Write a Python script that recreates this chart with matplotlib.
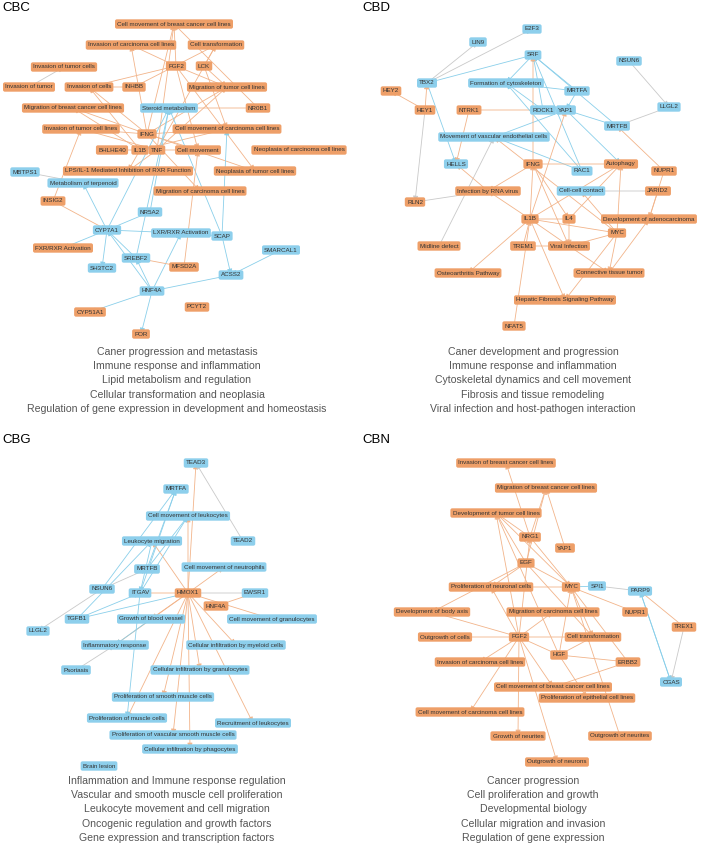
import matplotlib.pyplot as plt

plt.rcParams['font.family'] = ['Liberation Sans', 'DejaVu Sans']

# node name -> group (o = orange / up, b = blue / down)
CBC_nodes = {
    "Cell movement of breast cancer cell lines": "o", "Invasion of carcinoma cell lines": "o",
    "Cell transformation": "o", "Invasion of tumor cells": "o", "FGF2": "o", "LCK": "o",
    "Invasion of tumor": "o", "Invasion of cells": "o", "INHBB": "o",
    "Migration of tumor cell lines": "o", "Migration of breast cancer cell lines": "o",
    "Steroid metabolism": "b", "NR0B1": "o", "Invasion of tumor cell lines": "o", "IFNG": "o",
    "Cell movement of carcinoma cell lines": "o", "BHLHE40": "o", "IL1B": "o", "TNF": "o",
    "Cell movement": "o", "Neoplasia of carcinoma cell lines": "o", "MBTPS1": "b",
    "LPS/IL-1 Mediated Inhibition of RXR Function": "o", "Neoplasia of tumor cell lines": "o",
    "Metabolism of terpenoid": "b", "INSIG2": "o", "Migration of carcinoma cell lines": "o",
    "NR5A2": "b", "CYP7A1": "b", "LXR/RXR Activation": "b", "SCAP": "b",
    "FXR/RXR Activation": "o", "SMARCAL1": "b", "SREBF2": "b", "SH3TC2": "b", "MFSD2A": "o",
    "ACSS2": "b", "HNF4A": "b", "PCYT2": "o", "CYP51A1": "o", "POR": "o",
}
CBC_edges = [
    ("IFNG", "Cell movement of breast cancer cell lines"), ("IFNG", "Invasion of carcinoma cell lines"),
    ("IFNG", "Invasion of cells"), ("IFNG", "Migration of breast cancer cell lines"),
    ("IFNG", "Invasion of tumor cell lines"), ("IFNG", "Cell movement of carcinoma cell lines"),
    ("IFNG", "Cell movement"), ("IFNG", "Migration of tumor cell lines"),
    ("IFNG", "Neoplasia of tumor cell lines"), ("IFNG", "Migration of carcinoma cell lines"),
    ("TNF", "Cell movement of breast cancer cell lines"), ("TNF", "Invasion of tumor cell lines"),
    ("TNF", "Migration of tumor cell lines"), ("TNF", "Cell movement"),
    ("TNF", "LPS/IL-1 Mediated Inhibition of RXR Function"), ("TNF", "Cell transformation"),
    ("IL1B", "Migration of breast cancer cell lines"), ("IL1B", "Invasion of cells"),
    ("IL1B", "Cell movement of carcinoma cell lines"), ("IL1B", "LPS/IL-1 Mediated Inhibition of RXR Function"),
    ("FGF2", "Cell movement of breast cancer cell lines"), ("FGF2", "Invasion of cells"),
    ("FGF2", "Migration of tumor cell lines"), ("FGF2", "Cell movement"),
    ("FGF2", "Invasion of carcinoma cell lines"), ("FGF2", "Neoplasia of tumor cell lines"),
    ("LCK", "Cell transformation"), ("LCK", "Cell movement of carcinoma cell lines"),
    ("LCK", "Migration of tumor cell lines"), ("INHBB", "Invasion of cells"),
    ("INHBB", "Cell transformation"), ("BHLHE40", "IL1B"), ("NR0B1", "Steroid metabolism"),
    ("NR0B1", "Cell movement of breast cancer cell lines"), ("INSIG2", "Invasion of tumor cell lines"),
    ("CYP7A1", "Metabolism of terpenoid"), ("CYP7A1", "Steroid metabolism"),
    ("CYP7A1", "LXR/RXR Activation"), ("CYP7A1", "SH3TC2"), ("NR5A2", "CYP7A1"),
    ("NR5A2", "Steroid metabolism"), ("SREBF2", "CYP7A1"), ("SREBF2", "Steroid metabolism"),
    ("HNF4A", "SREBF2"), ("HNF4A", "CYP7A1"), ("HNF4A", "ACSS2"), ("HNF4A", "LXR/RXR Activation"),
    ("SCAP", "ACSS2"), ("SCAP", "Steroid metabolism"), ("SMARCAL1", "ACSS2"),
    ("MBTPS1", "Metabolism of terpenoid"), ("CYP7A1", "FXR/RXR Activation"),
    ("HNF4A", "CYP51A1"), ("HNF4A", "POR"), ("MFSD2A", "SREBF2"),
    ("MFSD2A", "Cell movement"), ("INSIG2", "CYP7A1"), ("SCAP", "Cell movement of carcinoma cell lines"),
    ("Invasion of tumor", "Invasion of tumor cells"), ("SCAP", "LXR/RXR Activation"),
]

CBD_nodes = {
    "E2F3": "b", "LIN9": "b", "SRF": "b", "NSUN6": "b", "TBX2": "b",
    "Formation of cytoskeleton": "b", "HEY2": "o", "MRTFA": "b", "HEY1": "o", "NTRK1": "o",
    "ROCK1": "b", "YAP1": "b", "LLGL2": "b", "MRTFB": "b",
    "Movement of vascular endothelial cells": "b", "HELLS": "b", "IFNG": "o", "Autophagy": "o",
    "RAC1": "b", "NUPR1": "o", "Infection by RNA virus": "o", "Cell-cell contact": "b",
    "JARID2": "o", "RLN2": "o", "IL1B": "o", "IL4": "o", "Development of adenocarcinoma": "o",
    "MYC": "o", "Midline defect": "o", "TREM1": "o", "Viral Infection": "o",
    "Osteoarthritis Pathway": "o", "Connective tissue tumor": "o",
    "Hepatic Fibrosis Signaling Pathway": "o", "NFAT5": "o",
}
CBD_edges = [
    ("TBX2", "LIN9"), ("TBX2", "E2F3"), ("TBX2", "SRF"), ("TBX2", "HELLS"), ("HEY1", "TBX2"),
    ("HEY1", "HEY2"), ("HEY1", "RLN2"), ("NTRK1", "ROCK1"), ("NTRK1", "HELLS"),
    ("ROCK1", "SRF"), ("ROCK1", "Formation of cytoskeleton"), ("MRTFA", "SRF"),
    ("MRTFA", "Formation of cytoskeleton"), ("MRTFA", "YAP1"), ("MRTFB", "SRF"), ("MRTFB", "YAP1"),
    ("NSUN6", "LLGL2"), ("LLGL2", "MRTFB"), ("NUPR1", "MRTFB"), ("RAC1", "SRF"),
    ("RAC1", "Formation of cytoskeleton"), ("RAC1", "Movement of vascular endothelial cells"),
    ("YAP1", "Movement of vascular endothelial cells"), ("YAP1", "Autophagy"),
    ("IFNG", "Autophagy"), ("IFNG", "Infection by RNA virus"), ("IFNG", "Viral Infection"),
    ("IFNG", "IL4"), ("IL1B", "IFNG"), ("IL1B", "Autophagy"), ("IL1B", "Infection by RNA virus"),
    ("IL1B", "YAP1"), ("IL1B", "Osteoarthritis Pathway"), ("IL1B", "Hepatic Fibrosis Signaling Pathway"),
    ("IL1B", "Viral Infection"), ("IL4", "IL1B"), ("IL4", "Autophagy"), ("IL4", "Viral Infection"),
    ("MYC", "IL1B"), ("MYC", "Autophagy"), ("MYC", "Viral Infection"), ("MYC", "Connective tissue tumor"),
    ("MYC", "Hepatic Fibrosis Signaling Pathway"), ("MYC", "Movement of vascular endothelial cells"),
    ("MYC", "Cell-cell contact"), ("JARID2", "Cell-cell contact"), ("JARID2", "Development of adenocarcinoma"),
    ("NUPR1", "Development of adenocarcinoma"), ("TREM1", "IL1B"), ("TREM1", "Viral Infection"),
    ("NFAT5", "IL1B"), ("RLN2", "Infection by RNA virus"), ("Midline defect", "Movement of vascular endothelial cells"),
    ("Infection by RNA virus", "HELLS"), ("IFNG", "SRF"), ("Viral Infection", "Connective tissue tumor"),
    ("Connective tissue tumor", "Development of adenocarcinoma"), ("SRF", "Formation of cytoskeleton"),
]

CBG_nodes = {
    "TEAD3": "b", "MRTFA": "b", "Cell movement of leukocytes": "b", "Leukocyte migration": "b",
    "TEAD2": "b", "MRTFB": "b", "Cell movement of neutrophils": "b", "NSUN6": "b", "ITGAV": "b",
    "HMOX1": "o", "EWSR1": "b", "HNF4A": "o", "TGFB1": "b", "Growth of blood vessel": "b",
    "Cell movement of granulocytes": "b", "LLGL2": "b", "Inflammatory response": "b",
    "Cellular infiltration by myeloid cells": "b", "Psoriasis": "b",
    "Cellular infiltration by granulocytes": "b", "Proliferation of smooth muscle cells": "b",
    "Proliferation of muscle cells": "b", "Recruitment of leukocytes": "b",
    "Proliferation of vascular smooth muscle cells": "b", "Cellular infiltration by phagocytes": "b",
    "Brain lesion": "b",
}
CBG_edges = [
    ("HMOX1", "Cell movement of leukocytes"), ("HMOX1", "Leukocyte migration"),
    ("HMOX1", "Cell movement of neutrophils"), ("HMOX1", "ITGAV"), ("HMOX1", "Growth of blood vessel"),
    ("HMOX1", "Cell movement of granulocytes"), ("HMOX1", "Inflammatory response"),
    ("HMOX1", "Cellular infiltration by myeloid cells"), ("HMOX1", "Cellular infiltration by granulocytes"),
    ("HMOX1", "Proliferation of smooth muscle cells"), ("HMOX1", "Proliferation of muscle cells"),
    ("HMOX1", "Recruitment of leukocytes"), ("HMOX1", "Proliferation of vascular smooth muscle cells"),
    ("HMOX1", "Cellular infiltration by phagocytes"), ("HMOX1", "TEAD3"), ("HNF4A", "EWSR1"),
    ("EWSR1", "HMOX1"), ("TEAD2", "TEAD3"), ("MRTFB", "MRTFA"), ("MRTFB", "Cell movement of leukocytes"),
    ("ITGAV", "Cell movement of leukocytes"), ("ITGAV", "MRTFA"), ("Leukocyte migration", "ITGAV"),
    ("NSUN6", "MRTFA"), ("NSUN6", "LLGL2"), ("NSUN6", "MRTFB"), ("TGFB1", "HMOX1"), ("TGFB1", "ITGAV"),
    ("TGFB1", "Leukocyte migration"), ("Psoriasis", "Inflammatory response"),
    ("ITGAV", "Proliferation of muscle cells"), ("Growth of blood vessel", "Inflammatory response"),
]

CBN_nodes = {
    "Invasion of breast cancer cell lines": "o", "Migration of breast cancer cell lines": "o",
    "Development of tumor cell lines": "o", "NRG1": "o", "YAP1": "o", "EGF": "o",
    "Proliferation of neuronal cells": "o", "MYC": "o", "SPI1": "b", "PARP9": "b",
    "Development of body axis": "o", "Migration of carcinoma cell lines": "o", "NUPR1": "o",
    "TREX1": "o", "Outgrowth of cells": "o", "FGF2": "o", "Cell transformation": "o", "HGF": "o",
    "Invasion of carcinoma cell lines": "o", "ERBB2": "o", "CGAS": "b",
    "Cell movement of breast cancer cell lines": "o", "Proliferation of epithelial cell lines": "o",
    "Cell movement of carcinoma cell lines": "o", "Growth of neurites": "o",
    "Outgrowth of neurites": "o", "Outgrowth of neurons": "o",
}
CBN_edges = [
    ("NRG1", "Invasion of breast cancer cell lines"), ("NRG1", "Migration of breast cancer cell lines"),
    ("NRG1", "Development of tumor cell lines"), ("NRG1", "MYC"), ("YAP1", "Migration of breast cancer cell lines"),
    ("EGF", "Development of tumor cell lines"), ("EGF", "Proliferation of neuronal cells"),
    ("EGF", "Migration of breast cancer cell lines"), ("EGF", "MYC"), ("EGF", "Cell transformation"),
    ("EGF", "Development of body axis"), ("MYC", "Proliferation of neuronal cells"),
    ("MYC", "Development of tumor cell lines"), ("MYC", "Cell transformation"), ("SPI1", "MYC"),
    ("SPI1", "PARP9"), ("TREX1", "PARP9"), ("TREX1", "CGAS"), ("PARP9", "CGAS"), ("CGAS", "PARP9"),
    ("NUPR1", "MYC"), ("FGF2", "NRG1"), ("FGF2", "Development of tumor cell lines"),
    ("FGF2", "Development of body axis"), ("FGF2", "Outgrowth of cells"), ("FGF2", "Cell transformation"),
    ("FGF2", "HGF"), ("FGF2", "Invasion of carcinoma cell lines"), ("FGF2", "Migration of carcinoma cell lines"),
    ("FGF2", "Cell movement of breast cancer cell lines"), ("FGF2", "Cell movement of carcinoma cell lines"),
    ("FGF2", "Growth of neurites"), ("FGF2", "Outgrowth of neurons"), ("FGF2", "Proliferation of neuronal cells"),
    ("HGF", "MYC"), ("HGF", "ERBB2"), ("HGF", "Cell transformation"), ("HGF", "Development of tumor cell lines"),
    ("ERBB2", "Cell movement of breast cancer cell lines"), ("ERBB2", "MYC"),
    ("HGF", "Proliferation of epithelial cell lines"), ("Outgrowth of neurites", "MYC"),
]

CBC_terms = ["Caner progression and metastasis", "Immune response and inflammation",
             "Lipid metabolism and regulation", "Cellular transformation and neoplasia",
             "Regulation of gene expression in development and homeostasis"]
CBD_terms = ["Caner development and progression", "Immune response and inflammation",
             "Cytoskeletal dynamics and cell movement", "Fibrosis and tissue remodeling",
             "Viral infection and host-pathogen interaction"]
CBG_terms = ["Inflammation and Immune response regulation", "Vascular and smooth muscle cell proliferation",
             "Leukocyte movement and cell migration", "Oncogenic regulation and growth factors",
             "Gene expression and transcription factors"]
CBN_terms = ["Cancer progression", "Cell proliferation and growth", "Developmental biology",
             "Cellular migration and invasion", "Regulation of gene expression"]

# layout (pixel positions in the figure)
CBC_pos = {
    "Cell movement of breast cancer cell lines": (174, 24), "Invasion of carcinoma cell lines": (131, 45),
    "Cell transformation": (216, 45), "Invasion of tumor cells": (64, 67), "FGF2": (176, 66),
    "LCK": (204, 66), "Invasion of tumor": (29, 87), "Invasion of cells": (89, 87), "INHBB": (134, 87),
    "Migration of tumor cell lines": (227, 87), "Migration of breast cancer cell lines": (73, 108),
    "Steroid metabolism": (169, 108), "NR0B1": (258, 108), "Invasion of tumor cell lines": (81, 129),
    "IFNG": (147, 134), "Cell movement of carcinoma cell lines": (227, 129), "BHLHE40": (112, 150),
    "IL1B": (140, 150), "TNF": (157, 150), "Cell movement": (198, 150),
    "Neoplasia of carcinoma cell lines": (299, 150), "MBTPS1": (25, 172),
    "LPS/IL-1 Mediated Inhibition of RXR Function": (128, 171), "Neoplasia of tumor cell lines": (255, 171),
    "Metabolism of terpenoid": (83, 183), "INSIG2": (53, 201), "Migration of carcinoma cell lines": (200, 191),
    "NR5A2": (150, 212), "CYP7A1": (107, 230), "LXR/RXR Activation": (181, 233), "SCAP": (222, 236),
    "FXR/RXR Activation": (63, 248), "SMARCAL1": (281, 250), "SREBF2": (136, 258), "SH3TC2": (102, 268),
    "MFSD2A": (184, 267), "ACSS2": (231, 275), "HNF4A": (152, 291), "PCYT2": (197, 307),
    "CYP51A1": (90, 312), "POR": (141, 334),
}
CBD_pos = {
    "E2F3": (532, 29), "LIN9": (478, 42), "SRF": (533, 55), "NSUN6": (629, 61), "TBX2": (427, 83),
    "Formation of cytoskeleton": (506, 83), "HEY2": (391, 91), "MRTFA": (577, 91), "HEY1": (425, 110),
    "NTRK1": (469, 110), "ROCK1": (543, 110), "YAP1": (566, 110), "LLGL2": (669, 107), "MRTFB": (617, 126),
    "Movement of vascular endothelial cells": (494, 137), "HELLS": (456, 164), "IFNG": (533, 164),
    "Autophagy": (621, 164), "RAC1": (582, 171), "NUPR1": (664, 171), "Infection by RNA virus": (488, 191),
    "Cell-cell contact": (581, 191), "JARID2": (658, 191), "RLN2": (415, 202), "IL1B": (530, 219),
    "IL4": (569, 219), "Development of adenocarcinoma": (649, 219), "MYC": (617, 233),
    "Midline defect": (439, 246), "TREM1": (523, 246), "Viral Infection": (569, 246),
    "Osteoarthritis Pathway": (468, 273), "Connective tissue tumor": (609, 273),
    "Hepatic Fibrosis Signaling Pathway": (565, 300), "NFAT5": (514, 326),
}
CBG_pos = {
    "TEAD3": (196, 463), "MRTFA": (176, 489), "Cell movement of leukocytes": (188, 516),
    "Leukocyte migration": (152, 541), "TEAD2": (243, 541), "MRTFB": (147, 569),
    "Cell movement of neutrophils": (224, 567), "NSUN6": (102, 589), "ITGAV": (140, 593),
    "HMOX1": (188, 593), "EWSR1": (255, 593), "HNF4A": (216, 606), "TGFB1": (77, 619),
    "Growth of blood vessel": (151, 619), "Cell movement of granulocytes": (272, 619), "LLGL2": (38, 631),
    "Inflammatory response": (115, 645), "Cellular infiltration by myeloid cells": (236, 645),
    "Psoriasis": (76, 670), "Cellular infiltration by granulocytes": (200, 670),
    "Proliferation of smooth muscle cells": (163, 697), "Proliferation of muscle cells": (127, 718),
    "Recruitment of leukocytes": (253, 723), "Proliferation of vascular smooth muscle cells": (173, 735),
    "Cellular infiltration by phagocytes": (190, 749), "Brain lesion": (99, 766),
}
CBN_pos = {
    "Invasion of breast cancer cell lines": (506, 463), "Migration of breast cancer cell lines": (546, 488),
    "Development of tumor cell lines": (496, 513), "NRG1": (530, 537), "YAP1": (565, 548), "EGF": (526, 563),
    "Proliferation of neuronal cells": (491, 587), "MYC": (571, 587), "SPI1": (597, 586), "PARP9": (640, 591),
    "Development of body axis": (432, 612), "Migration of carcinoma cell lines": (553, 612),
    "NUPR1": (635, 612), "TREX1": (684, 627), "Outgrowth of cells": (445, 637), "FGF2": (519, 637),
    "Cell transformation": (593, 637), "HGF": (559, 655), "Invasion of carcinoma cell lines": (480, 662),
    "ERBB2": (628, 662), "CGAS": (671, 682), "Cell movement of breast cancer cell lines": (553, 687),
    "Proliferation of epithelial cell lines": (587, 698), "Cell movement of carcinoma cell lines": (470, 712),
    "Growth of neurites": (518, 736), "Outgrowth of neurites": (620, 736), "Outgrowth of neurons": (557, 762),
}

FILL = {"o": "#EE9F68", "b": "#8DCFEC"}
EDGE = {"o": "#F2B48A", "b": "#8ACFEA"}
GREY_EDGES = {("MBTPS1", "Metabolism of terpenoid"), ("Invasion of tumor", "Invasion of tumor cells"),
              ("NSUN6", "LLGL2"), ("RLN2", "Infection by RNA virus"), ("Midline defect", "Movement of vascular endothelial cells"),
              ("EWSR1", "HMOX1"), ("TEAD2", "TEAD3"), ("Psoriasis", "Inflammatory response"),
              ("SPI1", "PARP9"), ("TREX1", "CGAS"), ("LLGL2", "MRTFB"), ("NSUN6", "MRTFB"),
              ("JARID2", "Cell-cell contact"), ("TBX2", "LIN9"), ("TBX2", "E2F3"), ("HEY1", "RLN2")}


def draw_network(ax, nodes, pos, edges):
    boxes = {}
    for name, grp in nodes.items():
        x, y = pos[name]
        boxes[name] = ax.text(x, y, name, ha="center", va="center", fontsize=4.5, color="#333333",
                              zorder=3, bbox=dict(boxstyle="round,pad=0.35,rounding_size=0.3",
                                                  fc=FILL[grp], ec="none"))
    for s, d in edges:
        col = "#C9C9C9" if (s, d) in GREY_EDGES else EDGE[nodes[s]]
        ax.annotate("", xy=pos[d], xytext=pos[s], zorder=1,
                    arrowprops=dict(arrowstyle="-|>,head_length=0.35,head_width=0.15", color=col,
                                    lw=0.6, shrinkA=0, shrinkB=0,
                                    patchA=boxes[s].get_bbox_patch(), patchB=boxes[d].get_bbox_patch()))


fig = plt.figure(figsize=(7.09, 8.47), dpi=100)
ax = fig.add_axes([0, 0, 1, 1])
ax.set_xlim(0, 709)
ax.set_ylim(847, 0)
ax.axis("off")

panels = [("CBC", CBC_nodes, CBC_pos, CBC_edges, CBC_terms, 2, 8, 177, 352),
          ("CBD", CBD_nodes, CBD_pos, CBD_edges, CBD_terms, 362, 8, 533, 352),
          ("CBG", CBG_nodes, CBG_pos, CBG_edges, CBG_terms, 2, 440, 177, 781),
          ("CBN", CBN_nodes, CBN_pos, CBN_edges, CBN_terms, 362, 440, 533, 781)]
fig.canvas.draw()
for title, nodes, pos, edges, terms, tx, ty, cx, cy in panels:
    ax.text(tx, ty, title, fontsize=9.5, ha="left", va="center", color="black")
    draw_network(ax, nodes, pos, edges)
    for i, t in enumerate(terms):
        ax.text(cx, cy + i * 14.2, t, fontsize=7.6, ha="center", va="center", color="#555555")

fig.savefig("out.png", dpi=100)
